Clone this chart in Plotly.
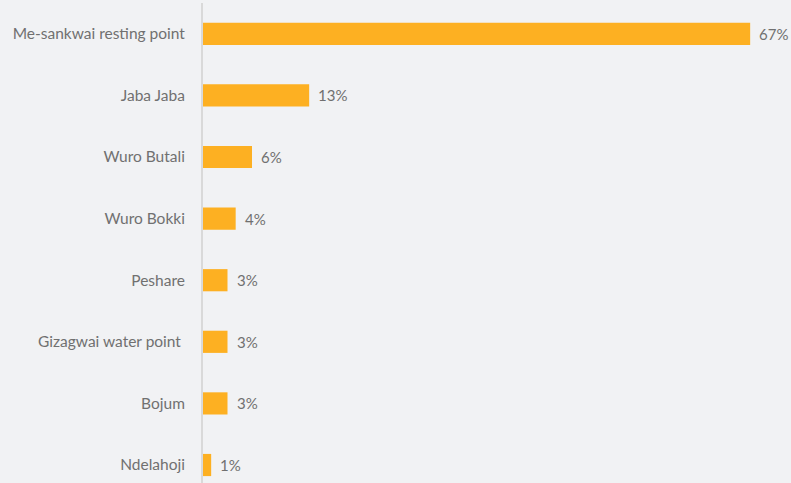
import plotly.graph_objects as go

# Share of responses by location
locations = [
    "Me-sankwai resting point",
    "Jaba Jaba",
    "Wuro Butali",
    "Wuro Bokki",
    "Peshare",
    "Gizagwai water point ",
    "Bojum",
    "Ndelahoji",
]
shares = [67, 13, 6, 4, 3, 3, 3, 1]
value_labels = [f"{v}%" for v in shares]

BAR = "#FDB022"
BG = "#F1F2F4"
TXT = "#707070"
FONT = "Lato, 'Open Sans', sans-serif"

fig = go.Figure(
    go.Bar(
        x=shares,
        y=list(range(len(locations))),
        orientation="h",
        width=0.36,
        marker=dict(color=BAR, line=dict(width=0)),
        hoverinfo="skip",
    )
)

for i, (v, t) in enumerate(zip(shares, value_labels)):
    fig.add_annotation(
        x=v, y=i, text=t, showarrow=False,
        xanchor="left", yanchor="middle", xshift=7,
        font=dict(size=15, color=TXT, family=FONT),
    )

fig.update_layout(
    width=791,
    height=483,
    margin=dict(l=203, r=0, t=3, b=0),
    paper_bgcolor=BG,
    plot_bgcolor=BG,
    showlegend=False,
    font=dict(family=FONT, color=TXT, size=15),
    xaxis=dict(range=[0, 72.0], visible=False, fixedrange=True),
    yaxis=dict(
        range=[7.292, -0.5],
        tickmode="array",
        tickvals=list(range(len(locations))),
        ticktext=locations,
        showgrid=False,
        zeroline=False,
        showline=True,
        linecolor="#D9D9D9",
        linewidth=2,
        ticks="",
        ticklabelstandoff=13,
        tickfont=dict(size=15.5, color=TXT, family=FONT),
    ),
)

fig.write_html("out.html")
